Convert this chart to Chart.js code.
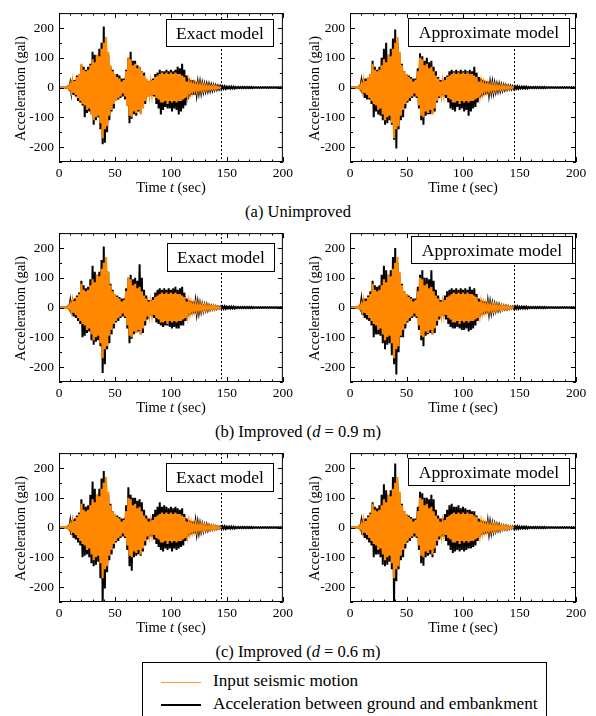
<!DOCTYPE html>
<html lang="en">
<head>
  <meta charset="UTF-8" />
  <title>Acceleration time histories</title>
  <style>
    body {
      margin: 0;
      background: #fff;
      font-family: "Liberation Serif", "Times New Roman", serif;
    }

    #page {
      position: relative;
      width: 596px;
      height: 716px;
      overflow: hidden;
      background: #fff;
    }

    canvas {
      position: absolute;
    }

    .caption {
      position: absolute;
      left: 0;
      width: 596px;
      text-align: center;
      font-size: 16.5px;
      line-height: 20px;
      color: #000;
    }

    #legend {
      position: absolute;
      left: 142px;
      top: 662px;
      width: 405px;
      height: 70px;
      border: 1px solid #000;
      box-sizing: border-box;
      font-size: 17.2px;
      color: #000;
    }

    .row {
      position: absolute;
      left: 18px;
      height: 22px;
      line-height: 22px;
      white-space: nowrap;
    }

    .swatch {
      display: inline-block;
      width: 40px;
      vertical-align: middle;
      margin-right: 12px;
    }
  </style>
  <script src="https://cdn.jsdelivr.net/npm/chart.js"></script>
</head>
<body>
  <div id="page">
    <canvas id="aExact" width="296" height="200" style="left:0;top:0"></canvas>
    <canvas id="aApprox" width="300" height="200" style="left:296px;top:0"></canvas>
    <div class="caption" style="top:202px">(a) Unimproved</div>

    <canvas id="bExact" width="296" height="200" style="left:0;top:220px"></canvas>
    <canvas id="bApprox" width="300" height="200" style="left:296px;top:220px"></canvas>
    <div class="caption" style="top:422px">(b) Improved (<i>d</i> = 0.9 m)</div>

    <canvas id="cExact" width="296" height="200" style="left:0;top:440px"></canvas>
    <canvas id="cApprox" width="300" height="200" style="left:296px;top:440px"></canvas>
    <div class="caption" style="top:642px">(c) Improved (<i>d</i> = 0.6 m)</div>

    <div id="legend">
      <div class="row" style="top:7px">
        <span class="swatch" style="border-top:1px solid #ff9a33"></span>Input seismic motion
      </div>
      <div class="row" style="top:30px">
        <span class="swatch" style="border-top:2px solid #000"></span>Acceleration between ground and embankment
      </div>
    </div>
  </div>

  <script>
    // time bins (sec); each bin gives one positive and one negative peak
    const timeSec = [0, 2, 4, 6, 8, 10, 12, 14, 16, 18,
      20, 22, 24, 26, 28, 30, 32, 34, 36, 38,
      40, 42, 44, 46, 48, 50, 52, 54, 56, 58,
      60, 62, 64, 66, 68, 70, 72, 74, 76, 78,
      80, 82, 84, 86, 88, 90, 92, 94, 96, 98,
      100, 102, 104, 106, 108, 110, 112, 114, 116, 118,
      120, 122, 124, 126, 128, 130, 132, 134, 136, 138,
      140, 142, 144];
    const tailSec = [146, 148, 150, 152, 154, 156, 158, 160, 162, 164,
      166, 168, 170, 172, 174, 176, 178, 180, 182, 184,
      186, 188, 190, 192, 194, 196, 198, 200];
    const cutoffSec = 145;

    // tick labels
    const xTicks = [0, 50, 100, 150, 200];
    const yTicks = [-200, -100, 0, 100, 200];

    // input seismic motion (gal)
    const inputUp = [0, 0, 1, 1, 3, 10, 18, 22, 35, 45,
      80, 60, 55, 60, 75, 95, 85, 110, 105, 130,
      150, 170, 120, 75, 55, 45, 35, 30, 20, 25,
      55, 100, 95, 75, 80, 65, 70, 55, 40, 30,
      20, 15, 25, 35, 40, 45, 50, 45, 50, 45,
      50, 45, 50, 45, 45, 40, 35, 20, 15, 12,
      10, 10, 8, 8, 7, 6, 5, 5, 4, 4,
      3, 2, 1];
    const inputDn = [0, 0, -1, -1, -3, -10, -18, -25, -35, -45,
      -55, -60, -75, -70, -90, -110, -100, -95, -120, -170,
      -140, -130, -95, -75, -55, -45, -35, -30, -20, -30,
      -60, -95, -100, -80, -85, -75, -90, -70, -45, -30,
      -20, -18, -25, -35, -40, -50, -50, -45, -55, -45,
      -50, -45, -50, -45, -45, -40, -35, -20, -15, -12,
      -10, -10, -8, -8, -7, -6, -5, -5, -4, -4,
      -3, -2, -1];

    // acceleration between ground and embankment, after 145 sec
    const tailUp = [4, 4, 3, 3, 3, 3, 2, 2, 2, 2, 2, 2, 2, 2, 1, 1, 1, 1, 1, 1, 1, 1, 1, 1, 1, 1, 1, 1];
    const tailDn = [-4, -4, -3, -3, -3, -3, -2, -2, -2, -2, -2, -2, -2, -2, -1, -1, -1, -1, -1, -1, -1, -1, -1, -1, -1, -1, -1, -1];

    // (a) unimproved
    const aExactUp = [0, 0, 1, 1, 4, 15, 25, 25, 40, 45,
      75, 70, 60, 70, 80, 120, 110, 100, 130, 150,
      205, 150, 110, 70, 60, 45, 45, 40, 30, 30,
      60, 100, 120, 90, 90, 75, 70, 55, 50, 25,
      20, 25, 30, 45, 50, 60, 55, 55, 60, 55,
      60, 55, 60, 70, 65, 80, 60, 40, 30, 25,
      25, 20, 15, 15, 12, 10, 10, 9, 8, 7,
      6, 5, 5];
    const aExactDn = [0, 0, -1, -1, -4, -15, -25, -30, -45, -50,
      -60, -100, -85, -80, -90, -125, -110, -100, -140, -190,
      -185, -150, -110, -80, -70, -45, -40, -35, -30, -40,
      -60, -120, -105, -90, -95, -80, -85, -60, -55, -30,
      -25, -28, -30, -55, -70, -90, -75, -65, -70, -70,
      -80, -70, -75, -90, -80, -70, -60, -40, -30, -25,
      -25, -20, -15, -15, -12, -10, -10, -9, -8, -7,
      -6, -5, -5];
    const aApproxUp = [0, 0, 1, 1, 4, 20, 30, 30, 35, 45,
      90, 70, 60, 70, 100, 130, 150, 110, 130, 165,
      195, 150, 110, 80, 55, 45, 40, 35, 30, 30,
      65, 115, 105, 90, 100, 85, 90, 70, 55, 35,
      25, 25, 35, 40, 55, 60, 55, 60, 55, 60,
      55, 60, 55, 60, 55, 70, 50, 35, 30, 25,
      22, 20, 15, 15, 12, 10, 10, 8, 7, 6,
      5, 5, 4];
    const aApproxDn = [0, 0, -1, -1, -4, -20, -35, -40, -40, -55,
      -100, -80, -90, -95, -110, -125, -120, -110, -125, -175,
      -205, -140, -110, -100, -70, -50, -45, -35, -30, -35,
      -70, -110, -125, -95, -90, -90, -85, -80, -50, -35,
      -25, -30, -35, -50, -70, -75, -80, -65, -75, -70,
      -80, -75, -95, -80, -70, -65, -50, -35, -30, -25,
      -22, -20, -15, -15, -12, -10, -10, -8, -7, -6,
      -5, -5, -4];

    // (b) improved, d = 0.9 m
    const bExactUp = [0, 0, 1, 1, 4, 20, 25, 30, 40, 50,
      90, 75, 65, 70, 95, 140, 120, 110, 120, 160,
      205, 160, 120, 80, 60, 45, 40, 35, 30, 30,
      65, 100, 110, 95, 100, 90, 145, 100, 60, 40,
      25, 25, 35, 50, 60, 65, 60, 65, 60, 65,
      60, 65, 70, 60, 65, 70, 50, 30, 25, 22,
      20, 18, 15, 12, 10, 8, 8, 6, 5, 5,
      4, 3, 3];
    const bExactDn = [0, 0, -1, -1, -4, -20, -30, -35, -45, -55,
      -100, -95, -85, -80, -110, -125, -115, -110, -130, -220,
      -190, -140, -120, -90, -70, -50, -45, -35, -30, -35,
      -70, -120, -105, -90, -85, -80, -90, -85, -60, -40,
      -25, -30, -35, -50, -55, -60, -65, -60, -60, -65,
      -70, -65, -70, -70, -60, -60, -45, -30, -25, -22,
      -20, -18, -15, -12, -10, -8, -8, -6, -5, -5,
      -4, -3, -3];
    const bApproxUp = [0, 0, 1, 1, 4, 25, 30, 30, 40, 55,
      90, 75, 70, 75, 110, 140, 125, 110, 125, 170,
      200, 150, 100, 80, 55, 45, 40, 35, 30, 30,
      70, 110, 125, 100, 100, 95, 125, 90, 60, 40,
      25, 25, 40, 55, 60, 65, 60, 65, 60, 65,
      60, 65, 60, 70, 60, 65, 45, 30, 25, 22,
      20, 18, 15, 12, 10, 8, 8, 6, 5, 5,
      4, 3, 3];
    const bApproxDn = [0, 0, -1, -1, -4, -25, -35, -40, -45, -60,
      -100, -90, -90, -95, -120, -140, -125, -120, -160, -190,
      -225, -150, -100, -100, -70, -50, -45, -35, -30, -35,
      -75, -110, -130, -95, -90, -85, -90, -85, -60, -40,
      -25, -30, -40, -55, -65, -70, -70, -65, -70, -75,
      -75, -70, -80, -75, -70, -60, -45, -30, -25, -22,
      -20, -18, -15, -12, -10, -8, -8, -6, -5, -5,
      -4, -3, -3];

    // (c) improved, d = 0.6 m
    const cExactUp = [0, 0, 1, 1, 4, 20, 25, 30, 40, 50,
      95, 80, 70, 75, 110, 155, 130, 110, 130, 165,
      190, 150, 110, 80, 55, 45, 40, 35, 30, 30,
      75, 135, 110, 100, 100, 90, 95, 85, 60, 40,
      30, 30, 45, 60, 70, 85, 70, 75, 70, 65,
      70, 65, 70, 65, 60, 65, 45, 30, 25, 22,
      20, 18, 15, 12, 10, 8, 8, 6, 5, 5,
      4, 3, 3];
    const cExactDn = [0, 0, -1, -1, -4, -25, -35, -40, -50, -60,
      -100, -95, -90, -100, -120, -130, -125, -115, -170, -260,
      -205, -150, -110, -90, -70, -50, -45, -35, -30, -35,
      -75, -130, -145, -100, -95, -90, -95, -80, -60, -40,
      -30, -30, -40, -55, -65, -75, -80, -70, -75, -70,
      -80, -70, -75, -70, -65, -60, -45, -30, -25, -22,
      -20, -18, -15, -12, -10, -8, -8, -6, -5, -5,
      -4, -3, -3];
    const cApproxUp = [0, 0, 1, 1, 4, 20, 30, 30, 40, 50,
      85, 70, 65, 75, 110, 145, 125, 110, 125, 170,
      215, 150, 105, 80, 55, 45, 40, 35, 30, 30,
      70, 120, 115, 100, 100, 95, 110, 95, 60, 40,
      30, 30, 45, 60, 75, 80, 70, 70, 75, 65,
      70, 65, 60, 60, 55, 55, 40, 30, 25, 22,
      20, 18, 15, 12, 10, 8, 8, 6, 5, 5,
      4, 3, 3];
    const cApproxDn = [0, 0, -1, -1, -4, -25, -35, -40, -50, -60,
      -100, -90, -90, -100, -125, -130, -125, -115, -140, -260,
      -180, -140, -110, -100, -70, -50, -45, -35, -30, -35,
      -75, -120, -128, -100, -95, -90, -100, -85, -60, -40,
      -30, -30, -45, -60, -75, -85, -80, -75, -80, -75,
      -80, -75, -70, -70, -65, -60, -45, -30, -25, -22,
      -20, -18, -15, -12, -10, -8, -8, -6, -5, -5,
      -4, -3, -3];

    const FONT = "'Liberation Serif', 'Times New Roman', serif";
    const ORANGE = "#ff8800";

    // alternate positive and negative peaks to get the oscillating trace
    function zigzag(t, up, dn) {
      const pts = [];
      for (let i = 0; i < t.length; i++) {
        pts.push({ x: t[i], y: up[i] });
        pts.push({ x: t[i] + 1, y: dn[i] });
      }
      return pts;
    }

    const panelDecor = {
      id: "panelDecor",
      afterDatasetsDraw(chart, args, opts) {
        const { ctx, chartArea: a, scales: { x, y } } = chart;
        ctx.save();
        ctx.strokeStyle = "#000";
        ctx.lineWidth = 1;

        // end of input motion
        const xm = Math.round(x.getPixelForValue(cutoffSec)) + 0.5;
        ctx.setLineDash([2, 2]);
        ctx.beginPath();
        ctx.moveTo(xm, a.top);
        ctx.lineTo(xm, a.bottom);
        ctx.stroke();
        ctx.setLineDash([]);

        // frame and inward ticks
        ctx.strokeRect(a.left + 0.5, a.top + 0.5, a.right - a.left - 1, a.bottom - a.top - 1);
        ctx.beginPath();
        for (let v = 0; v <= 200; v += 10) {
          const px = Math.round(x.getPixelForValue(v)) + 0.5;
          const len = v % 50 === 0 ? 5 : 2.5;
          ctx.moveTo(px, a.bottom); ctx.lineTo(px, a.bottom - len);
          ctx.moveTo(px, a.top); ctx.lineTo(px, a.top + len);
        }
        for (let v = -250; v <= 250; v += 50) {
          const py = Math.round(y.getPixelForValue(v)) + 0.5;
          const len = v % 100 === 0 ? 5 : 3;
          ctx.moveTo(a.left, py); ctx.lineTo(a.left + len, py);
          ctx.moveTo(a.right, py); ctx.lineTo(a.right - len, py);
        }
        ctx.stroke();

        // model label box
        const b = opts.box;
        ctx.fillStyle = "#fff";
        ctx.fillRect(b.x, b.y, b.w, b.h);
        ctx.strokeRect(b.x + 0.5, b.y + 0.5, b.w - 1, b.h - 1);
        ctx.fillStyle = "#000";
        ctx.font = "17.5px " + FONT;
        ctx.textAlign = "center";
        ctx.textBaseline = "middle";
        ctx.fillText(opts.label, b.x + b.w / 2, b.y + b.h / 2 + 1);

        // y title
        ctx.font = "14.5px " + FONT;
        ctx.save();
        ctx.translate(opts.yTitleX, (a.top + a.bottom) / 2 + 1);
        ctx.rotate(-Math.PI / 2);
        ctx.fillText("Acceleration (gal)", 0, 0);
        ctx.restore();

        // x title with italic t
        const parts = [["Time ", ""], ["t", "italic "], [" (sec)", ""]];
        let total = 0;
        parts.forEach(p => { ctx.font = p[1] + "14.5px " + FONT; total += ctx.measureText(p[0]).width; });
        let cx = (a.left + a.right) / 2 - total / 2;
        ctx.textAlign = "left";
        parts.forEach(p => {
          ctx.font = p[1] + "14.5px " + FONT;
          ctx.fillText(p[0], cx, 188);
          cx += ctx.measureText(p[0]).width;
        });
        ctx.restore();
      }
    };

    function makePanel(id, up, dn, label, box, isLeft) {
      const black = zigzag(timeSec, up, dn).concat(zigzag(tailSec, tailUp, tailDn));
      const input = zigzag(timeSec, inputUp, inputDn);
      new Chart(document.getElementById(id), {
        type: "line",
        data: {
          datasets: [
            {
              label: "Input seismic motion",
              data: input,
              borderColor: ORANGE,
              borderWidth: 2.2,
              pointRadius: 0,
              tension: 0
            },
            {
              label: "Acceleration between ground and embankment",
              data: black,
              borderColor: "#000",
              borderWidth: 2,
              pointRadius: 0,
              tension: 0
            }
          ]
        },
        options: {
          responsive: false,
          animation: false,
          devicePixelRatio: 1,
          layout: {
            padding: { left: 0, right: isLeft ? 11 : 20, top: 11, bottom: 0 }
          },
          plugins: {
            legend: { display: false },
            tooltip: { enabled: false },
            panelDecor: { label: label, box: box, yTitleX: isLeft ? 21 : 19 }
          },
          scales: {
            x: {
              type: "linear",
              min: 0,
              max: 200,
              grid: { display: false, drawTicks: false },
              border: { display: false },
              afterBuildTicks: s => { s.ticks = xTicks.map(v => ({ value: v })); },
              ticks: {
                padding: 3,
                color: "#000",
                font: { family: FONT, size: 13.5 }
              },
              afterFit: s => { s.height = 38; }
            },
            y: {
              min: -250,
              max: 250,
              grid: { display: false, drawTicks: false },
              border: { display: false },
              afterBuildTicks: s => { s.ticks = yTicks.map(v => ({ value: v })); },
              ticks: {
                padding: 5,
                color: "#000",
                font: { family: FONT, size: 13.5 }
              },
              afterFit: s => { s.width = isLeft ? 59 : 54; }
            }
          }
        },
        plugins: [panelDecor]
      });
    }

    makePanel("aExact", aExactUp, aExactDn, "Exact model", { x: 166, y: 19, w: 108, h: 28 }, true);
    makePanel("aApprox", aApproxUp, aApproxDn, "Approximate model", { x: 112, y: 18, w: 162, h: 29 }, false);
    makePanel("bExact", bExactUp, bExactDn, "Exact model", { x: 167, y: 23, w: 108, h: 29 }, true);
    makePanel("bApprox", bApproxUp, bApproxDn, "Approximate model", { x: 115, y: 16, w: 162, h: 28 }, false);
    makePanel("cExact", cExactUp, cExactDn, "Exact model", { x: 166, y: 23, w: 108, h: 29 }, true);
    makePanel("cApprox", cApproxUp, cApproxDn, "Approximate model", { x: 112, y: 18, w: 162, h: 28 }, false);
  </script>
</body>
</html>
